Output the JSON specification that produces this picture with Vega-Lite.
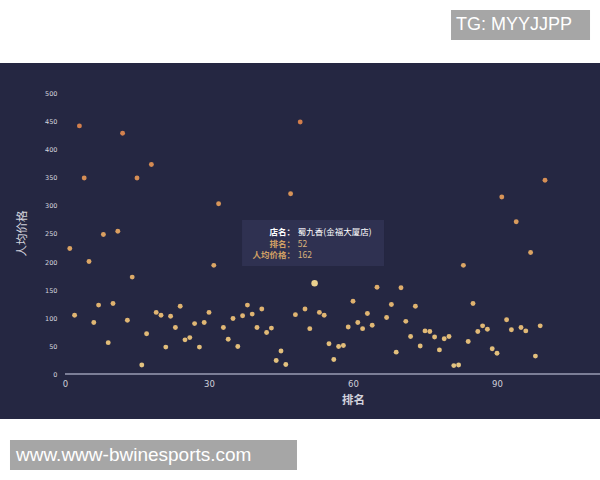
{
  "$schema": "https://vega.github.io/schema/vega-lite/v6.json",
  "width": 600,
  "height": 480,
  "autosize": {"type": "none"},
  "padding": 0,
  "background": "#ffffff",
  "config": {
    "view": {"stroke": null},
    "axis": {"grid": false, "domain": false, "ticks": false}
  },
  "resolve": {"axis": {"x": "independent", "y": "independent"}},
  "datasets": {
    "panel": [{"x1": -13.5417, "x2": 111.4583, "y1": -80.4, "y2": 555.4}],
    "baseline": [{"x1": 0, "x2": 111.4583, "y": 0}],
    "points": [
      {"rank": 1, "price": 224}, {"rank": 2, "price": 105}, {"rank": 3, "price": 443}, {"rank": 4, "price": 350},
      {"rank": 5, "price": 201}, {"rank": 6, "price": 92}, {"rank": 7, "price": 123}, {"rank": 8, "price": 249},
      {"rank": 9, "price": 56}, {"rank": 10, "price": 126}, {"rank": 11, "price": 255}, {"rank": 12, "price": 430},
      {"rank": 13, "price": 96}, {"rank": 14, "price": 173}, {"rank": 15, "price": 350}, {"rank": 16, "price": 16},
      {"rank": 17, "price": 72}, {"rank": 18, "price": 374}, {"rank": 19, "price": 110}, {"rank": 20, "price": 105},
      {"rank": 21, "price": 48}, {"rank": 22, "price": 103}, {"rank": 23, "price": 83}, {"rank": 24, "price": 121},
      {"rank": 25, "price": 61}, {"rank": 26, "price": 65}, {"rank": 27, "price": 90}, {"rank": 28, "price": 48},
      {"rank": 29, "price": 92}, {"rank": 30, "price": 110}, {"rank": 31, "price": 194}, {"rank": 32, "price": 304},
      {"rank": 33, "price": 83}, {"rank": 34, "price": 62}, {"rank": 35, "price": 99}, {"rank": 36, "price": 49},
      {"rank": 37, "price": 104}, {"rank": 38, "price": 123}, {"rank": 39, "price": 107}, {"rank": 40, "price": 83},
      {"rank": 41, "price": 116}, {"rank": 42, "price": 74}, {"rank": 43, "price": 82}, {"rank": 44, "price": 24},
      {"rank": 45, "price": 41}, {"rank": 46, "price": 17}, {"rank": 47, "price": 322}, {"rank": 48, "price": 106},
      {"rank": 49, "price": 450}, {"rank": 50, "price": 116}, {"rank": 51, "price": 81}, {"rank": 52, "price": 162},
      {"rank": 53, "price": 110}, {"rank": 54, "price": 105}, {"rank": 55, "price": 54}, {"rank": 56, "price": 26},
      {"rank": 57, "price": 49}, {"rank": 58, "price": 51}, {"rank": 59, "price": 84}, {"rank": 60, "price": 130},
      {"rank": 61, "price": 92}, {"rank": 62, "price": 81}, {"rank": 63, "price": 108}, {"rank": 64, "price": 87},
      {"rank": 65, "price": 155}, {"rank": 67, "price": 101}, {"rank": 68, "price": 124},
      {"rank": 69, "price": 39}, {"rank": 70, "price": 154}, {"rank": 71, "price": 94}, {"rank": 72, "price": 67},
      {"rank": 73, "price": 121}, {"rank": 74, "price": 50}, {"rank": 75, "price": 77}, {"rank": 76, "price": 76},
      {"rank": 77, "price": 66}, {"rank": 78, "price": 43}, {"rank": 79, "price": 63}, {"rank": 80, "price": 67},
      {"rank": 81, "price": 15}, {"rank": 82, "price": 16}, {"rank": 83, "price": 194}, {"rank": 84, "price": 58},
      {"rank": 85, "price": 126}, {"rank": 86, "price": 76}, {"rank": 87, "price": 86}, {"rank": 88, "price": 80},
      {"rank": 89, "price": 45}, {"rank": 90, "price": 37}, {"rank": 91, "price": 316}, {"rank": 92, "price": 97},
      {"rank": 93, "price": 79}, {"rank": 94, "price": 272}, {"rank": 95, "price": 83}, {"rank": 96, "price": 77},
      {"rank": 97, "price": 217}, {"rank": 98, "price": 32}, {"rank": 99, "price": 86}, {"rank": 100, "price": 346}
    ],
    "tipbox": [{"x1": 36.88, "x2": 66.46, "y1": 192.86, "y2": 275.0}],
    "tipkeys": [
      {"t": "店名：", "row": "name", "y": 253.6},
      {"t": "排名：", "row": "rank", "y": 233.0},
      {"t": "人均价格：", "row": "price", "y": 212.5}
    ],
    "tipvals": [
      {"t": "蜀九香(金福大厦店)", "row": "name", "y": 253.6},
      {"t": "52", "row": "rank", "y": 233.0},
      {"t": "162", "row": "price", "y": 212.5}
    ],
    "wmbox": [
      {"x1": 80.42, "x2": 109.38, "y1": 596.4, "y2": 650.0},
      {"x1": -11.46, "x2": 48.33, "y1": -171.43, "y2": -117.86}
    ],
    "wmtop": [{"t": "TG: MYYJJPP", "x": 81.46, "y": 623.2}],
    "wmbottom": [{"t": "www.www-bwinesports.com", "x": -10.21, "y": -144.64}]
  },
  "layer": [
    {
      "data": {"name": "panel"},
      "mark": {"type": "rect", "fill": "#252742"},
      "encoding": {
        "x": {"field": "x1", "type": "quantitative", "scale": {"domain": [-13.5417, 111.4583], "nice": false, "zero": false}, "axis": null},
        "x2": {"field": "x2"},
        "y": {"field": "y1", "type": "quantitative", "scale": {"domain": [-189.2857, 667.8571], "nice": false, "zero": false}, "axis": null},
        "y2": {"field": "y2"}
      }
    },
    {
      "data": {"name": "baseline"},
      "mark": {"type": "rule", "color": "#9a9cb4", "strokeWidth": 1.5},
      "encoding": {
        "x": {"field": "x1", "type": "quantitative", "scale": {"domain": [-13.5417, 111.4583], "nice": false, "zero": false}, "axis": null},
        "x2": {"field": "x2"},
        "y": {"field": "y", "type": "quantitative", "scale": {"domain": [-189.2857, 667.8571], "nice": false, "zero": false}, "axis": null}
      }
    },
    {
      "data": {"name": "points"},
      "transform": [{"filter": "datum.rank !== 52"}],
      "mark": {"type": "circle", "opacity": 1, "size": 24},
      "encoding": {
        "x": {
          "field": "rank", "type": "quantitative",
          "scale": {"domain": [-13.5417, 111.4583], "nice": false, "zero": false},
          "axis": {
            "zindex": 2,
            "values": [0, 30, 60, 90], "offset": -106, "title": "排名",
            "labelFontSize": 8.5, "labelColor": "#cfd0da", "labelPadding": 5, "labelFont": "DejaVu Sans",
            "titleX": 353, "titleY": 26, "titleFontSize": 11.5, "titleColor": "#d2d2dc",
            "titleFont": "Noto Sans CJK SC", "titleFontWeight": "bold", "titleBaseline": "middle", "titleAlign": "center"
          }
        },
        "y": {
          "field": "price", "type": "quantitative",
          "scale": {"domain": [-189.2857, 667.8571], "nice": false, "zero": false},
          "axis": {
            "zindex": 2,
            "values": [0, 50, 100, 150, 200, 250, 300, 350, 400, 450, 500], "offset": -65, "title": "人均价格",
            "labelFontSize": 6.5, "labelColor": "#d4d5de", "labelPadding": 8, "labelFont": "DejaVu Sans",
            "titleX": -43, "titleY": 233, "titleAngle": -90, "titleFontSize": 11.5, "titleColor": "#d2d2dc",
            "titleFont": "Noto Sans CJK SC", "titleFontWeight": "normal", "titleBaseline": "middle", "titleAlign": "center"
          }
        },
        "color": {
          "field": "price", "type": "quantitative",
          "scale": {"domain": [0, 450], "range": ["#e4c582", "#d27e4c"]},
          "legend": null
        }
      }
    },
    {
      "data": {"name": "points"},
      "transform": [{"filter": "datum.rank === 52"}],
      "mark": {"type": "circle", "opacity": 1, "size": 42, "color": "#ead08e"},
      "encoding": {
        "x": {"field": "rank", "type": "quantitative", "scale": {"domain": [-13.5417, 111.4583], "nice": false, "zero": false}, "axis": null},
        "y": {"field": "price", "type": "quantitative", "scale": {"domain": [-189.2857, 667.8571], "nice": false, "zero": false}, "axis": null}
      }
    },
    {
      "data": {"name": "tipbox"},
      "mark": {"type": "rect", "fill": "#2f3252", "opacity": 0.97},
      "encoding": {
        "x": {"field": "x1", "type": "quantitative", "scale": {"domain": [-13.5417, 111.4583], "nice": false, "zero": false}, "axis": null},
        "x2": {"field": "x2"},
        "y": {"field": "y1", "type": "quantitative", "scale": {"domain": [-189.2857, 667.8571], "nice": false, "zero": false}, "axis": null},
        "y2": {"field": "y2"}
      }
    },
    {
      "data": {"name": "tipkeys"},
      "mark": {"type": "text", "align": "right", "baseline": "middle", "font": "Noto Sans CJK SC", "fontSize": 8.5, "fontWeight": "bold"},
      "encoding": {
        "x": {"datum": 47.92, "type": "quantitative", "scale": {"domain": [-13.5417, 111.4583], "nice": false, "zero": false}, "axis": null},
        "y": {"field": "y", "type": "quantitative", "scale": {"domain": [-189.2857, 667.8571], "nice": false, "zero": false}, "axis": null},
        "text": {"field": "t"},
        "color": {"condition": {"test": "datum.row === 'name'", "value": "#ffffff"}, "value": "#d2a064"}
      }
    },
    {
      "data": {"name": "tipvals"},
      "mark": {"type": "text", "align": "left", "baseline": "middle", "font": "Noto Sans CJK SC", "fontSize": 8.5},
      "encoding": {
        "x": {"datum": 48.5, "type": "quantitative", "scale": {"domain": [-13.5417, 111.4583], "nice": false, "zero": false}, "axis": null},
        "y": {"field": "y", "type": "quantitative", "scale": {"domain": [-189.2857, 667.8571], "nice": false, "zero": false}, "axis": null},
        "text": {"field": "t"},
        "color": {"condition": {"test": "datum.row === 'name'", "value": "#ffffff"}, "value": "#d8b17c"},
        "fontWeight": {"condition": {"test": "datum.row === 'name'", "value": "bold"}, "value": "normal"}
      }
    },
    {
      "data": {"name": "wmbox"},
      "mark": {"type": "rect", "fill": "#a6a6a6"},
      "encoding": {
        "x": {"field": "x1", "type": "quantitative", "scale": {"domain": [-13.5417, 111.4583], "nice": false, "zero": false}, "axis": null},
        "x2": {"field": "x2"},
        "y": {"field": "y1", "type": "quantitative", "scale": {"domain": [-189.2857, 667.8571], "nice": false, "zero": false}, "axis": null},
        "y2": {"field": "y2"}
      }
    },
    {
      "data": {"name": "wmtop"},
      "mark": {"type": "text", "align": "left", "baseline": "middle", "font": "Liberation Sans", "fontSize": 18, "color": "#ffffff"},
      "encoding": {
        "x": {"field": "x", "type": "quantitative", "scale": {"domain": [-13.5417, 111.4583], "nice": false, "zero": false}, "axis": null},
        "y": {"field": "y", "type": "quantitative", "scale": {"domain": [-189.2857, 667.8571], "nice": false, "zero": false}, "axis": null},
        "text": {"field": "t"}
      }
    },
    {
      "data": {"name": "wmbottom"},
      "mark": {"type": "text", "align": "left", "baseline": "middle", "font": "Liberation Sans", "fontSize": 19, "color": "#ffffff"},
      "encoding": {
        "x": {"field": "x", "type": "quantitative", "scale": {"domain": [-13.5417, 111.4583], "nice": false, "zero": false}, "axis": null},
        "y": {"field": "y", "type": "quantitative", "scale": {"domain": [-189.2857, 667.8571], "nice": false, "zero": false}, "axis": null},
        "text": {"field": "t"}
      }
    }
  ]
}
